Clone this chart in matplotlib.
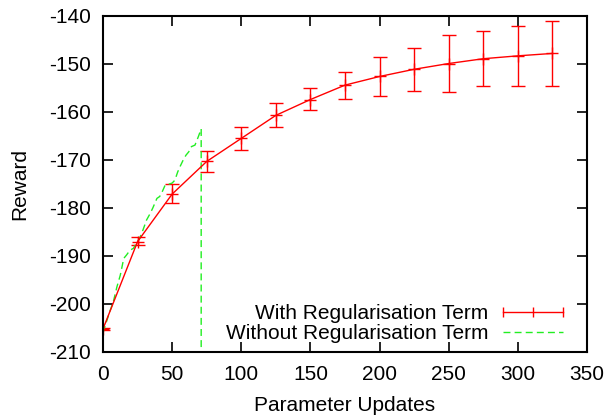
import numpy as np
import matplotlib
matplotlib.use("Agg")
import matplotlib.pyplot as plt
from matplotlib.lines import Line2D
from matplotlib.legend_handler import HandlerBase
from matplotlib.container import ErrorbarContainer

plt.rcParams['font.family'] = ['Liberation Sans', 'DejaVu Sans']
plt.rcParams['axes.unicode_minus'] = False

# Data
updates = [0, 25, 50, 75, 100, 125, 150, 175, 200, 225, 250, 275, 300, 325]
reward_reg = [-205.2, -187.0, -177.1, -170.3, -165.5, -160.7, -157.4, -154.4,
              -152.6, -151.1, -149.9, -148.9, -148.3, -147.8]
reward_low = [-205.4, -187.8, -179.0, -172.4, -167.9, -163.1, -159.6, -157.3,
              -156.6, -155.6, -155.8, -154.6, -154.6, -154.6]
reward_high = [-205.0, -186.1, -175.1, -168.1, -163.1, -158.1, -155.1, -151.6,
               -148.6, -146.6, -144.0, -143.1, -142.1, -141.1]

updates_noreg = [0, 2.5, 5, 7.5, 10, 12.5, 15, 17, 19.5, 22, 24, 26.5, 29, 31.5,
                 34, 36, 39, 41, 43, 45, 48, 50, 52, 54, 56, 58, 60, 62, 64,
                 66.5, 69, 71, 71]
reward_noreg = [-206.0, -203.7, -201.5, -199.5, -196.5, -194.0, -190.5, -189.8,
                -188.8, -188.4, -187.4, -186.3, -184.5, -182.5, -181.2, -180.0,
                -178.0, -177.6, -176.5, -175.2, -175.0, -174.8, -174.2, -172.5,
                -171.2, -170.0, -169.0, -168.3, -167.2, -166.9, -165.1, -163.5,
                -210.0]

labels = ["With Regularisation Term", "Without Regularisation Term"]


class GnuErrHandler(HandlerBase):
    def create_artists(self, legend, orig_handle, xdescent, ydescent, width,
                       height, fontsize, trans):
        y = height / 2 - ydescent
        x0 = -xdescent
        x1 = x0 + width
        line = Line2D([x0, x1], [y, y], color='red', lw=1.0)
        ticks = Line2D([x0, (x0 + x1) / 2, x1], [y, y, y], linestyle='none',
                       marker='|', markersize=7, markeredgewidth=1.0, color='red')
        line.set_transform(trans)
        ticks.set_transform(trans)
        return [line, ticks]


fig = plt.figure(figsize=(6.1, 4.15), dpi=100)
ax = fig.add_axes([103 / 610, 1 - 352 / 415, (587 - 103) / 610, (352 - 16) / 415])

yerr = [np.array(reward_reg) - np.array(reward_low),
        np.array(reward_high) - np.array(reward_reg)]
eb = ax.errorbar(updates, reward_reg, yerr=yerr, color='red', lw=1.0,
                 elinewidth=1.0, capsize=5, capthick=1.0, marker='+',
                 markersize=8, markeredgewidth=1.0, label=labels[0])
gl, = ax.plot(updates_noreg, reward_noreg, color='#22ee22', lw=1.0,
              dashes=(5, 3), label=labels[1])

ax.set_xlim(0, 350)
ax.set_ylim(-210, -140)
ax.set_xticks(range(0, 351, 50))
ax.set_yticks(range(-210, -139, 10))
ax.tick_params(direction='in', length=7, width=1.2, top=True, right=True,
               labelsize=15, pad=9)
ax.tick_params(axis='x', pad=9)
for s in ax.spines.values():
    s.set_linewidth(1.5)

ax.set_xlabel("Parameter Updates", fontsize=15, labelpad=9)
ax.set_ylabel("Reward", fontsize=15, labelpad=14)

leg = ax.legend(handles=[eb, gl], labels=labels,
                handler_map={ErrorbarContainer: GnuErrHandler()},
                loc='lower right', bbox_to_anchor=((563 - 103) / 484, 9 / 336),
                borderaxespad=0, borderpad=0, frameon=False, markerfirst=False,
                fontsize=15, handlelength=2.9, handletextpad=0.7,
                labelspacing=0.05)

fig.savefig("out.png", dpi=100)
